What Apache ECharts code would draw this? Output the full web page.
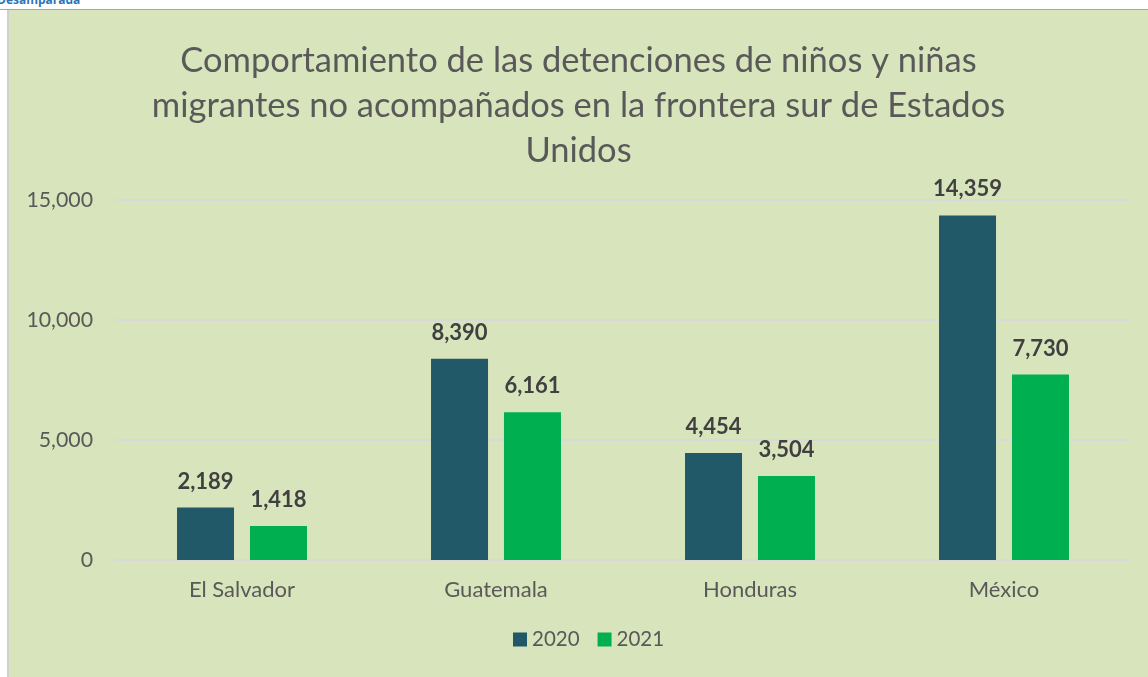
<!DOCTYPE html>
<html>
<head>
<meta charset="utf-8">
<script src="https://cdn.jsdelivr.net/npm/echarts@6/dist/echarts.min.js"></script>
<style>
  html, body { margin: 0; padding: 0; background: #fff; width: 1148px; height: 677px; overflow: hidden; }
  #topline { position: absolute; left: 0; top: 9px; width: 1148px; height: 1px; background: #8eaad8; }
  #leftline { position: absolute; left: 7px; top: 10px; width: 2px; height: 667px; background: #d0d0d0; }
  #brand { position: absolute; left: -3px; top: -9px; font: bold 12px "Open Sans", sans-serif; color: #2e75b6; }
  #chart { position: absolute; left: 9px; top: 10px; width: 1139px; height: 667px; }
</style>
</head>
<body>
<div id="brand">Desamparada</div>
<div id="topline"></div>
<div id="leftline"></div>
<div id="chart"></div>
<script>
  var categories = ['El Salvador', 'Guatemala', 'Honduras', 'México'];
  var values2020 = [2189, 8390, 4454, 14359];
  var values2021 = [1418, 6161, 3504, 7730];
  var seriesNames = ['2020', '2021'];

  var font = 'Lato, "Open Sans", sans-serif';
  var chart = echarts.init(document.getElementById('chart'));

  function fmt(p) {
    return p.value.toLocaleString('en-US');
  }

  var labelStyle = {
    show: true,
    position: 'top',
    distance: 15,
    formatter: fmt,
    fontFamily: font,
    fontSize: 22,
    fontWeight: 'bold',
    color: '#404040'
  };

  chart.setOption({
    backgroundColor: '#d8e4bc',
    animation: false,
    title: {
      text: 'Comportamiento de las detenciones de niños y niñas\nmigrantes no acompañados en la frontera sur de Estados\nUnidos',
      left: 'center',
      top: 28,
      padding: [0, 0, 0, 12],
      textStyle: {
        fontFamily: font,
        fontSize: 34.5,
        fontWeight: 'normal',
        color: '#595959',
        lineHeight: 45
      }
    },
    legend: {
      data: seriesNames,
      bottom: 22,
      left: 499,
      itemWidth: 14,
      itemHeight: 14,
      itemGap: 18,
      icon: 'rect',
      textStyle: { fontFamily: font, fontSize: 20.5, color: '#595959' }
    },
    grid: {
      left: 106,
      right: 17,
      top: 190,
      bottom: 117
    },
    xAxis: {
      type: 'category',
      data: categories,
      axisLine: { lineStyle: { color: '#d9d9d9', width: 2 } },
      axisTick: { show: false },
      axisLabel: { fontFamily: font, fontSize: 22, color: '#595959', margin: 19 }
    },
    yAxis: {
      type: 'value',
      min: 0,
      max: 15000,
      interval: 5000,
      axisLine: { show: false },
      axisTick: { show: false },
      splitLine: { lineStyle: { color: '#d9d9d9', width: 2 } },
      axisLabel: {
        fontFamily: font,
        fontSize: 21.3,
        color: '#595959',
        margin: 22,
        formatter: function (v) { return v.toLocaleString('en-US'); }
      }
    },
    series: [
      {
        name: seriesNames[0],
        type: 'bar',
        data: values2020,
        barWidth: 57,
        barGap: '28%',
        itemStyle: { color: '#215968' },
        label: labelStyle
      },
      {
        name: seriesNames[1],
        type: 'bar',
        data: values2021,
        barWidth: 57,
        itemStyle: { color: '#00b050' },
        label: labelStyle
      }
    ]
  });
</script>
</body>
</html>
